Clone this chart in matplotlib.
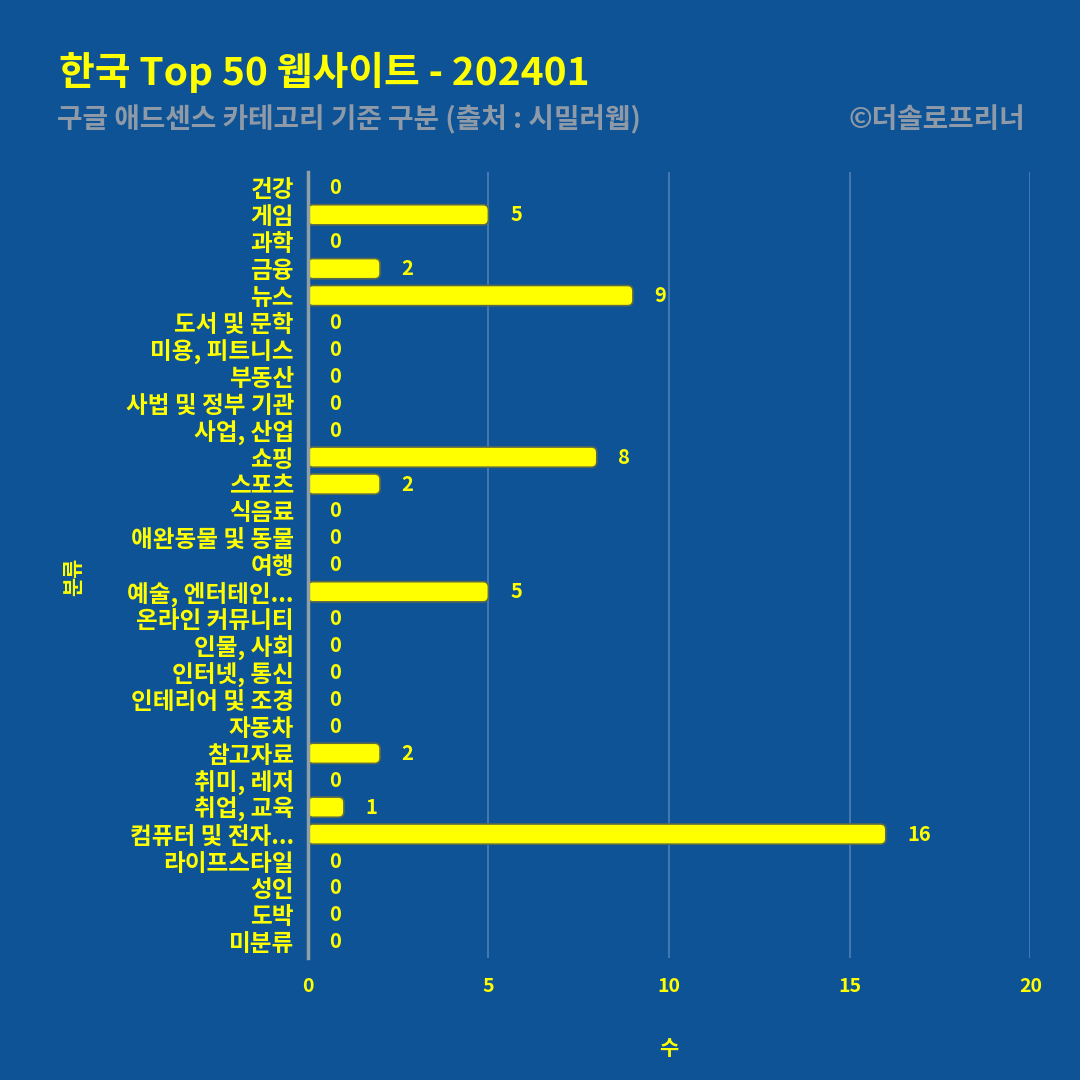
import numpy as np
import matplotlib.pyplot as plt
from matplotlib.patches import FancyBboxPatch

plt.rcParams['font.family'] = ['Noto Sans CJK KR', 'DejaVu Sans']

categories = ["건강", "게임", "과학", "금융", "뉴스", "도서 및 문학", "미용, 피트니스", "부동산",
              "사법 및 정부 기관", "사업, 산업", "쇼핑", "스포츠", "식음료", "애완동물 및 동물",
              "여행", "예술, 엔터테인...", "온라인 커뮤니티", "인물, 사회", "인터넷, 통신",
              "인테리어 및 조경", "자동차", "참고자료", "취미, 레저", "취업, 교육",
              "컴퓨터 및 전자...", "라이프스타일", "성인", "도박", "미분류"]
counts = [0, 5, 0, 2, 9, 0, 0, 0, 0, 0, 8, 2, 0, 0, 0, 5, 0, 0, 0, 0, 0, 2, 0, 1, 16, 0, 0, 0, 0]
xticks = [0, 5, 10, 15, 20]

bg = "#0E5395"
yellow = "#FFFF00"

fig = plt.figure(figsize=(10.8, 10.8), dpi=100, facecolor=bg)
ax = fig.add_axes([0.285, 0.113, 0.669, 0.728], facecolor=bg)

y = np.arange(len(categories))
bars = ax.barh(y, counts, height=0.75, color=yellow, edgecolor="#5b6b4a", linewidth=1.2, zorder=3)

# swap plain bars for rounded ones
for b in bars:
    w = b.get_width()
    if w <= 0:
        continue
    b.set_visible(False)
    ax.add_patch(FancyBboxPatch((b.get_x(), b.get_y()), w, b.get_height(),
                                boxstyle="round,pad=0,rounding_size=0.15",
                                mutation_aspect=1.34, facecolor=yellow,
                                edgecolor="#5b6b4a", linewidth=1.2, zorder=3))

for yi, v in zip(y, counts):
    ax.text(v + 0.6, yi, str(v), color=yellow, fontsize=14.5, fontweight="bold",
            va="center", ha="left", zorder=4)

ax.set_xlim(0, 20)
ax.set_ylim(len(categories) - 0.4, -0.6)
ax.set_xticks(xticks)
ax.set_yticks(y)
ax.set_yticklabels(categories)
ax.tick_params(axis="y", length=0, pad=10, labelsize=17, labelcolor=yellow)
ax.tick_params(axis="x", length=0, pad=14, labelsize=14, labelcolor=yellow)
for lab in ax.get_yticklabels() + ax.get_xticklabels():
    lab.set_fontweight("bold")

ax.grid(axis="x", color="#4d7fb5", linewidth=1.2, zorder=0)
for s in ["top", "right", "bottom"]:
    ax.spines[s].set_visible(False)
ax.spines["left"].set_color("#8f9fa6")
ax.spines["left"].set_linewidth(2.5)
ax.spines["left"].set_zorder(5)

ax.set_xlabel("수", color=yellow, fontsize=15, fontweight="bold", labelpad=30)
ax.set_ylabel("분류", color=yellow, fontsize=15, fontweight="bold")
ax.yaxis.set_label_coords(-0.31, 0.485)

fig.text(0.055, 0.933, "한국 Top 50 웹사이트 - 202401", color=yellow, fontsize=28,
         fontweight="bold", style="italic", va="center", ha="left")
fig.text(0.053, 0.889, "구글 애드센스 카테고리 기준 구분 (출처 : 시밀러웹)", color="#8f9aa8",
         fontsize=20, fontweight="bold", style="italic", va="center", ha="left")
fig.text(0.949, 0.889, "©더솔로프리너", color="#8f9aa8", fontsize=20, fontweight="bold",
         style="italic", va="center", ha="right")

fig.savefig("out.png", dpi=100, facecolor=bg)
